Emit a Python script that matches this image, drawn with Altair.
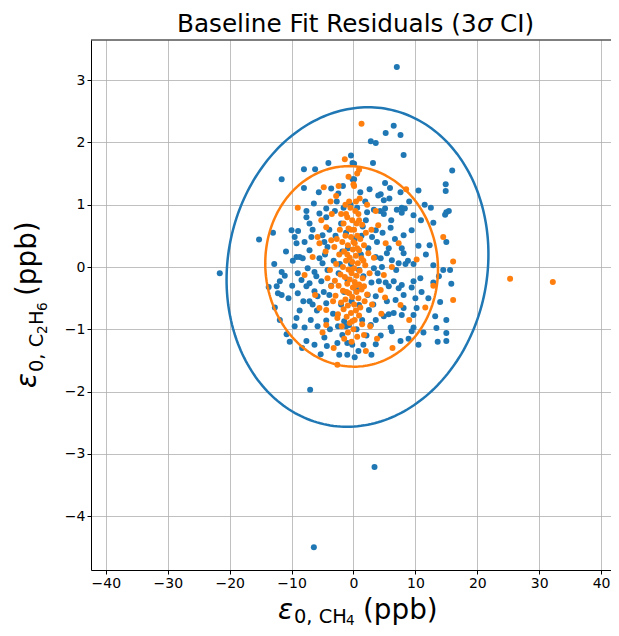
import altair as alt
import numpy as np
import pandas as pd

# ---- data ----
blue_points = [
    (-11.6, 1.41), (-8.0, 1.57), (-6.2, 1.57), (-4.05, 1.67), (-0.4, 1.79), (-0.15, 1.67), (-8.0, 1.27), (-3.6, 1.26),
    (-2.45, 1.18), (-0.15, 1.41), (-6.4, 1.02), (-4.4, 0.94), (-5.5, 0.86), (-7.6, 0.90), (6.5, 2.27), (5.2, 2.15),
    (7.6, 2.12), (2.8, 2.02), (3.6, 1.99), (8.1, 1.80), (3.15, 1.67), (0.1, 1.66), (15.95, 1.55), (0.1, 1.41),
    (5.1, 1.35), (5.9, 1.27), (14.9, 1.33), (14.9, 1.22), (10.5, 1.23), (7.6, 1.20), (4.4, 1.17), (4.9, 1.07),
    (5.8, 1.10), (4.0, 1.15), (2.2, 0.88), (3.3, 0.92), (5.1, 0.94), (7.0, 0.92), (7.8, 0.95), (8.3, 0.94),
    (15.0, 0.88), (15.4, 0.90), (-15.25, 0.44), (-10.0, 0.59), (-8.95, 0.58), (-9.5, 0.48), (-9.2, 0.38), (-7.9, 0.40),
    (-7.6, 0.80), (-7.1, 0.70), (-4.4, 0.80), (-6.8, 0.48), (-5.0, 0.51), (-4.7, 0.40), (-4.2, 0.32), (-7.1, 0.27),
    (-9.2, 0.16), (-8.7, 0.16), (-8.2, 0.14), (-5.5, 0.14), (-5.0, 0.06), (-11.6, -0.08), (-11.1, -0.14), (-11.9, -0.23),
    (-12.4, -0.31), (-9.0, -0.10), (-8.4, -0.21), (-7.4, -0.02), (-6.3, -0.08), (-6.0, -0.15), (-7.1, -0.26), (-5.2, -0.23),
    (-4.2, -0.05), (4.9, 0.85), (7.8, 0.87), (9.7, 0.83), (14.8, 0.84), (2.0, 0.75), (6.0, 0.63), (9.4, 0.59),
    (12.9, 0.71), (15.0, 0.40), (3.6, 0.59), (3.0, 0.48), (3.8, 0.40), (5.7, 0.30), (8.1, 0.51), (7.8, 0.30),
    (8.1, 0.22), (10.5, 0.34), (5.4, 0.22), (4.4, 0.14), (6.2, 0.11), (7.3, 0.06), (8.4, 0.05), (9.7, 0.05),
    (12.9, 0.03), (14.5, -0.05), (15.6, -0.05), (10.8, -0.18), (12.9, -0.25), (15.8, -0.27), (9.7, -0.23), (7.8, -0.29),
    (6.5, -0.23), (5.2, -0.25), (4.1, -0.23), (3.3, -0.02), (3.6, 0.16), (-12.2, -0.42), (-11.6, -0.45), (-9.0, -0.42),
    (-7.6, -0.31), (-6.3, -0.39), (-5.8, -0.47), (-7.1, -0.55), (-4.4, -0.58), (-8.7, -0.70), (-9.2, -0.82), (-11.9, -0.85),
    (-10.8, -1.08), (-9.5, -0.95), (-7.9, -0.97), (-5.8, -0.95), (-4.4, -0.86), (-7.6, -1.19), (-6.3, -1.25), (-4.7, -1.13),
    (-4.3, -1.27), (-2.6, -1.22), (-1.8, -1.09), (-1.0, -1.22), (-1.0, -1.41), (-2.3, -1.41), (-1.5, -0.87), (-0.7, -0.93),
    (5.7, -0.31), (7.3, -0.34), (9.4, -0.33), (8.1, -0.45), (3.6, -0.47), (6.8, -0.53), (8.1, -0.66), (10.2, -0.66),
    (14.0, -0.56), (0.9, -0.61), (2.5, -0.69), (4.9, -0.79), (5.7, -0.76), (6.5, -0.74), (7.8, -0.77), (9.7, -0.77),
    (13.2, -0.79), (15.0, -0.85), (3.6, -0.85), (2.8, -0.93), (6.0, -0.97), (6.2, -1.03), (9.7, -0.97), (9.4, -1.03),
    (13.4, -0.98), (15.0, -1.06), (7.6, -1.19), (10.5, -1.25), (15.0, -1.19), (3.6, -1.24), (2.9, -1.41),
    (7.0, 3.21), (-6.4, -4.50), (3.4, -3.21), (-21.6, -0.10), (-7.0, -1.97),
    (-3.0, 0.9), (-2.0, 0.7), (-1.2, 0.55), (-0.5, 1.0), (0.6, 0.95), (1.5, 0.65), (2.4, 0.3), (1.2, 0.2),
    (-1.8, 0.25), (-3.2, 0.1), (-2.4, -0.1), (-1.0, -0.2), (0.4, -0.35), (1.6, -0.15), (2.3, -0.45), (-0.3, -0.55),
    (-2.0, -0.6), (-3.3, -0.75), (-1.2, -0.95), (0.5, -1.0), (1.4, -0.85), (2.1, -1.1), (-0.2, -1.25), (0.8, -1.35),
    (-3.8, -1.0), (-2.9, 0.5), (-3.9, 0.6), (-2.7, 1.05), (1.9, 1.05), (2.6, 1.25), (-1.7, 1.3), (1.1, 1.2),
    (-0.9, 0.3), (0.2, 0.45), (-0.4, 0.05), (0.9, -0.05), (2.9, -0.25), (-1.5, -0.4), (-3.6, -0.3), (-4.6, 0.2),
    (-4.8, -0.4), (-5.9, -0.7), (-6.6, 0.6), (-5.6, 1.2), (-9.8, 0.1), (-10.5, -0.5), (-13.7, -0.32), (-12.8, 0.05),
    (-10.3, -1.2), (-8.3, -1.3), (-6.9, -0.85), (4.4, -1.1), (5.4, -0.55), (4.7, 0.55), (6.7, 0.45), (11.7, 0.2),
    (12.1, -0.5), (11.3, -1.05), (12.5, 0.95), (10.9, 0.75), (9.0, 1.05), (8.8, 0.1), (6.9, -0.05), (3.9, -0.1),
    (4.6, 0.0), (11.5, 1.0), (12.3, 0.35), (13.8, -0.15), (11.0, -0.4), (13.6, -1.2), (-13.0, 0.55), (-10.9, 0.25),
    (-12.7, -0.65), (-9.9, -0.3), (-6.6, -0.6), (-3.9, -0.45), (-2.5, -0.95), (0.2, -1.45), (1.6, -1.25), (3.2, -0.6),
    (4.3, 0.9), (-1.6, 0.95), (-2.2, 0.05), (1.3, 0.5), (6.1, 0.75), (10.0, -0.5), (8.9, -1.15), (-8.1, -0.55),
    (-5.3, -1.4),
]

orange_points = [
    (-1.4, 1.73), (-4.8, 1.28), (-2.8, 1.14), (0.0, 1.33), (-1.2, 0.85), (1.3, 2.30), (0.9, 1.56), (0.1, 1.30),
    (-5.2, 0.75), (-4.4, 0.64), (-5.8, 0.48), (-5.5, 0.38), (-3.6, 0.43), (-6.6, 0.16), (-7.9, -0.13), (-4.2, -0.18),
    (-3.6, -0.31), (0.9, 0.75), (4.0, 0.67), (14.5, 0.48), (5.2, 0.38), (7.3, 0.38), (10.2, 0.12), (16.1, 0.09),
    (4.9, -0.13), (-5.5, -0.66), (-4.4, -0.69), (-4.4, -0.93), (-2.6, -1.57), (-2.6, -0.82), (-0.2, -0.87), (1.7, -0.31),
    (4.4, -0.37), (5.1, -0.49), (7.6, -0.61), (11.6, -0.65), (16.1, -0.53), (1.7, -1.09), (25.3, -0.19), (32.2, -0.24),
    (-0.5, 0.95), (0.3, 0.9), (-1.0, 0.8), (0.8, 0.85), (-0.2, 0.75), (0.5, 0.7), (-1.6, 0.7), (1.4, 0.68),
    (-0.8, 0.62), (0.1, 0.6), (-2.2, 0.6), (2.0, 0.55), (-1.3, 0.5), (0.6, 0.5), (-0.4, 0.48), (1.1, 0.45),
    (-2.7, 0.45), (-1.8, 0.4), (0.2, 0.38), (-0.9, 0.35), (1.7, 0.35), (-3.1, 0.32), (-0.1, 0.28), (0.9, 0.27),
    (-1.5, 0.25), (2.4, 0.22), (-2.3, 0.2), (0.4, 0.18), (-0.6, 0.15), (1.3, 0.14), (-1.2, 0.1), (-0.2, 0.08),
    (0.7, 0.06), (-2.8, 0.05), (1.9, 0.03), (-1.7, 0.0), (0.1, -0.02), (-0.8, -0.04), (1.0, -0.06), (-0.3, -0.1),
    (2.6, -0.1), (-2.1, -0.12), (0.5, -0.14), (-1.4, -0.16), (1.5, -0.18), (-0.6, -0.2), (-3.0, -0.22), (0.2, -0.24),
    (-1.0, -0.27), (0.9, -0.28), (-2.4, -0.3), (-0.1, -0.33), (1.3, -0.36), (-1.7, -0.38), (0.5, -0.4), (-0.7, -0.42),
    (2.2, -0.44), (-2.9, -0.46), (-0.2, -0.48), (0.8, -0.5), (-1.3, -0.52), (1.8, -0.55), (-2.0, -0.57), (0.1, -0.6),
    (-0.9, -0.62), (1.1, -0.65), (-1.6, -0.68), (0.4, -0.7), (-0.4, -0.74), (-2.5, -0.76), (0.9, -0.78), (-1.1, -0.8),
    (0.2, -0.85), (-0.6, -0.9), (1.4, -0.92), (-1.9, -0.95), (0.0, -1.0), (-0.9, -1.05), (0.6, -1.12), (-0.3, -1.2),
    (-1.5, -1.15), (-1.0, 0.2), (0.0, 0.4), (-0.4, 0.6), (0.6, 0.3), (-1.1, -0.4), (0.3, -0.3), (-0.5, -0.05),
    (1.6, 0.1), (-2.0, 0.85), (-0.7, 1.05), (0.4, 1.05), (1.0, 1.1), (-1.3, 1.0), (-3.5, 0.85), (-3.3, -0.55),
    (2.9, 0.6), (3.3, 0.15), (3.0, -0.6), (2.7, -0.95), (-3.8, -0.05), (-4.5, 0.25), (-3.7, 1.05), (-2.4, 1.3),
    (0.6, 1.5), (-0.8, 1.45), (3.6, 0.9), (4.5, -0.75), (3.8, -1.15), (2.2, 1.0), (-6.2, -0.45), (-5.0, -1.05),
    (6.2, 0.0), (9.0, -0.85), (12.9, -0.3), (-9.0, 0.95), (8.5, 1.25), (6.3, -1.3), (-3.2, -1.3), (2.0, -1.35),
]

# 3-sigma confidence ellipses: centre, semi-extent in x and y, correlation
ell_series = ["blue", "orange"]
ell_cx = [0.65, -0.3]
ell_cy = [0.0, 0.01]
ell_sx = [21.15, 13.95]
ell_sy = [2.565, 1.61]
ell_rho = [0.08, -0.03]

x_ticks = [-40, -30, -20, -10, 0, 10, 20, 30, 40]
y_ticks = [-4, -3, -2, -1, 0, 1, 2, 3]
x_domain = [-42.4, 41.6]
y_domain = [-4.865, 3.645]

BLUE = "#1f77b4"
ORANGE = "#ff7f0e"
FONT = "DejaVu Sans"
W, H = 520, 530

blue_df = pd.DataFrame(blue_points, columns=["x", "y"])
orange_df = pd.DataFrame(orange_points, columns=["x", "y"])

rows = []
t = np.linspace(0, 2 * np.pi, 241)
for name, cx, cy, sx, sy, r in zip(ell_series, ell_cx, ell_cy, ell_sx, ell_sy, ell_rho):
    ex = cx + sx * np.cos(t)
    ey = cy + sy * (r * np.cos(t) + np.sqrt(1 - r * r) * np.sin(t))
    for i in range(len(t)):
        rows.append({"series": name, "t": i, "x": ex[i], "y": ey[i]})
ell_df = pd.DataFrame(rows)

xs = alt.Scale(domain=x_domain, nice=False, zero=False)
ys = alt.Scale(domain=y_domain, nice=False, zero=False)
xax = alt.Axis(values=x_ticks, title=None, format="d")
yax = alt.Axis(values=y_ticks, title=None, format="d")


def scatter(df, color):
    return alt.Chart(df).mark_circle(size=36, opacity=1, color=color).encode(
        x=alt.X("x:Q", scale=xs, axis=xax),
        y=alt.Y("y:Q", scale=ys, axis=yax),
    )


def ellipse(name, color):
    return alt.Chart(ell_df[ell_df.series == name]).mark_line(
        color=color, strokeWidth=2.5
    ).encode(
        x=alt.X("x:Q", scale=xs, axis=xax),
        y=alt.Y("y:Q", scale=ys, axis=yax),
        order="t:Q",
    )


one = pd.DataFrame({"a": [0]})


def txt(s, x, y, size, angle=0, italic=False, align="left"):
    kw = dict(text=s, fontSize=size, font=FONT, align=align, baseline="alphabetic", color="black")
    if angle:
        kw["angle"] = angle
    if italic:
        kw["fontStyle"] = "italic"
    return alt.Chart(one).mark_text(**kw).encode(x=alt.value(x), y=alt.value(y))


# top frame line (right spine lies outside the picture in the reference)
top_frame = alt.Chart(one).mark_rule(color="black", strokeWidth=1).encode(
    x=alt.value(0), x2=alt.value(W), y=alt.value(0)
)

texts = [
    # title
    txt("Baseline Fit Residuals (3", 86, -8, 24.7),
    txt("σ", 386, -8, 24.7, italic=True),
    txt("CI)", 409, -8, 24.7),
    # x label
    txt("ε", 187, 579, 27.8, italic=True),
    txt("0, CH", 203, 583, 19.4),
    txt("4", 255, 584.5, 13.6),
    txt("(ppb)", 272, 579, 27.8),
    # y label (rotated)
    txt("ε", -55, 348, 27.8, angle=270, italic=True),
    txt("0, C", -48, 332, 19.4, angle=270),
    txt("2", -44, 294, 13.6, angle=270),
    txt("H", -48, 285, 19.4, angle=270),
    txt("6", -44, 271, 13.6, angle=270),
    txt("(ppb)", -55, 256, 27.8, angle=270),
]

chart = alt.layer(
    scatter(blue_df, BLUE),
    scatter(orange_df, ORANGE),
    ellipse("blue", BLUE),
    ellipse("orange", ORANGE),
    top_frame,
    *texts,
).properties(
    width=W,
    height=H,
    autosize=alt.AutoSizeParams(type="none"),
    padding={"left": 83, "top": 32, "right": 0, "bottom": 58},
).configure_axis(
    grid=True,
    gridColor="#b0b0b0",
    gridWidth=0.8,
    domainColor="black",
    domainWidth=1,
    tickColor="black",
    tickSize=4,
    tickWidth=1,
    labelFont=FONT,
    labelFontSize=14,
    labelColor="black",
    labelPadding=2,
).configure_view(strokeWidth=0)

chart.save("out.html", embed_options={"renderer": "svg", "actions": False})
